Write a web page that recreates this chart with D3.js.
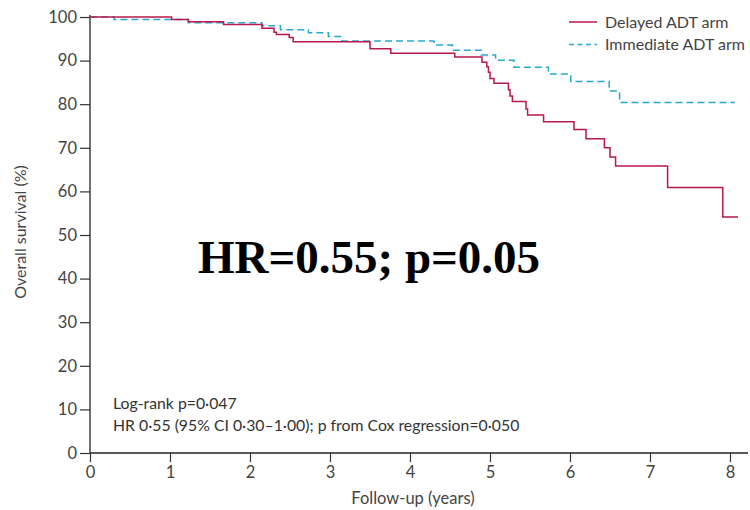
<!DOCTYPE html>
<html>
<head>
<meta charset="utf-8">
<script src="https://cdn.jsdelivr.net/npm/d3@7"></script>
<style>
  body { margin: 0; background: #fff; }
  svg text { font-family: Lato, "Open Sans", sans-serif; }
</style>
</head>
<body>
<div id="chart"></div>
<script>
// Kaplan-Meier steps (years, survival %)
const delayedTimes = [0, 1.02, 1.23, 1.67, 2.15, 2.30, 2.33, 2.49, 2.54, 3.50, 3.76, 4.56, 4.90, 4.96, 4.98, 5.00, 5.05, 5.23, 5.25, 5.28, 5.45, 5.47, 5.67, 6.05, 6.20, 6.43, 6.50, 6.57, 7.22, 7.91, 8.10];
const delayedSurv  = [100, 99.4, 98.9, 98.3, 97.4, 96.5, 96.0, 95.3, 94.3, 92.7, 91.7, 90.8, 89.6, 88.6, 87.3, 85.9, 84.8, 83.3, 81.9, 80.6, 78.9, 77.5, 76.0, 74.2, 72.1, 70.0, 67.9, 65.8, 60.9, 54.1, 54.1];

const immediateTimes = [0, 0.30, 1.23, 2.15, 2.38, 2.73, 2.98, 3.15, 4.30, 4.53, 4.89, 5.07, 5.30, 5.73, 6.01, 6.49, 6.62, 8.06];
const immediateSurv  = [100, 99.4, 98.7, 98.0, 97.1, 96.4, 95.5, 94.5, 93.6, 92.4, 91.3, 90.1, 88.5, 86.9, 85.2, 83.0, 80.4, 80.4];

const xTicks = [0, 1, 2, 3, 4, 5, 6, 7, 8];
const yTicks = [0, 10, 20, 30, 40, 50, 60, 70, 80, 90, 100];

const legendLabels = ["Delayed ADT arm", "Immediate ADT arm"];
const statLines = ["Log-rank p=0·047", "HR 0·55 (95% CI 0·30–1·00); p from Cox regression=0·050"];
const bigLabel = "HR=0.55; p=0.05";

const width = 750;
const height = 510;

const svg = d3.select("#chart")
  .append("svg")
  .attr("width", width)
  .attr("height", height);

const x = d3.scaleLinear().domain([0, 8]).range([90, 730]);
const y = d3.scaleLinear().domain([0, 100]).range([453, 17]);

// axes
const xAxis = d3.axisBottom(x).tickValues(xTicks).tickSize(9).tickPadding(4).tickFormat(d3.format("d"));
const yAxis = d3.axisLeft(y).tickValues(yTicks).tickSize(10).tickPadding(3);

const gx = svg.append("g")
  .attr("transform", `translate(0, ${y(0)})`)
  .call(xAxis);
gx.select(".domain").attr("d", `M${x(0)},0H748`);

const gy = svg.append("g")
  .attr("transform", `translate(${x(0)}, 0)`)
  .call(yAxis);
gy.select(".domain").attr("d", `M0,${y(0)}V15`);

svg.selectAll(".domain").attr("stroke", "#222").attr("stroke-width", 1.3);
svg.selectAll(".tick line").attr("stroke", "#333").attr("stroke-width", 1.2);
svg.selectAll(".tick text")
  .attr("fill", "#444")
  .style("font-size", "16.5px");

// axis titles
svg.append("text")
  .attr("x", 413)
  .attr("y", 504)
  .attr("text-anchor", "middle")
  .attr("fill", "#444")
  .style("font-size", "16.5px")
  .text("Follow-up (years)");

svg.append("text")
  .attr("transform", "translate(26, 232) rotate(-90)")
  .attr("text-anchor", "middle")
  .attr("fill", "#444")
  .style("font-size", "16px")
  .text("Overall survival (%)");

// curves
const line = d3.line()
  .x(d => x(d[0]))
  .y(d => y(d[1]))
  .curve(d3.curveStepAfter);

const delayed = d3.zip(delayedTimes, delayedSurv);
const immediate = d3.zip(immediateTimes, immediateSurv);

svg.append("path")
  .datum(immediate)
  .attr("fill", "none")
  .attr("stroke", "#27a9cc")
  .attr("stroke-width", 1.5)
  .attr("stroke-dasharray", "7,4")
  .attr("d", line);

svg.append("path")
  .datum(delayed)
  .attr("fill", "none")
  .attr("stroke", "#b8194c")
  .attr("stroke-width", 1.5)
  .attr("d", line);

// legend
const legend = svg.append("g").attr("transform", "translate(569, 22)");
legend.append("line")
  .attr("x1", 0).attr("x2", 28).attr("y1", 0).attr("y2", 0)
  .attr("stroke", "#b8194c").attr("stroke-width", 1.5);
legend.append("line")
  .attr("x1", 0).attr("x2", 28).attr("y1", 22.5).attr("y2", 22.5)
  .attr("stroke", "#27a9cc").attr("stroke-width", 1.5)
  .attr("stroke-dasharray", "5,3.5");
legend.selectAll(".leg-label")
  .data(legendLabels)
  .enter()
  .append("text")
  .attr("class", "leg-label")
  .attr("x", 36)
  .attr("y", (d, i) => 5.5 + i * 22.5)
  .attr("fill", "#444")
  .style("font-size", "16px")
  .text(d => d);

// statistics
svg.selectAll(".stat")
  .data(statLines)
  .enter()
  .append("text")
  .attr("class", "stat")
  .attr("x", 113)
  .attr("y", (d, i) => 409 + i * 22)
  .attr("fill", "#333")
  .style("font-size", "15.8px")
  .text(d => d);

svg.append("text")
  .attr("x", 198)
  .attr("y", 273)
  .attr("fill", "#000")
  .style("font-family", "'Liberation Serif', 'Times New Roman', serif")
  .style("font-weight", "bold")
  .style("font-size", "47px")
  .text(bigLabel);
</script>
</body>
</html>
